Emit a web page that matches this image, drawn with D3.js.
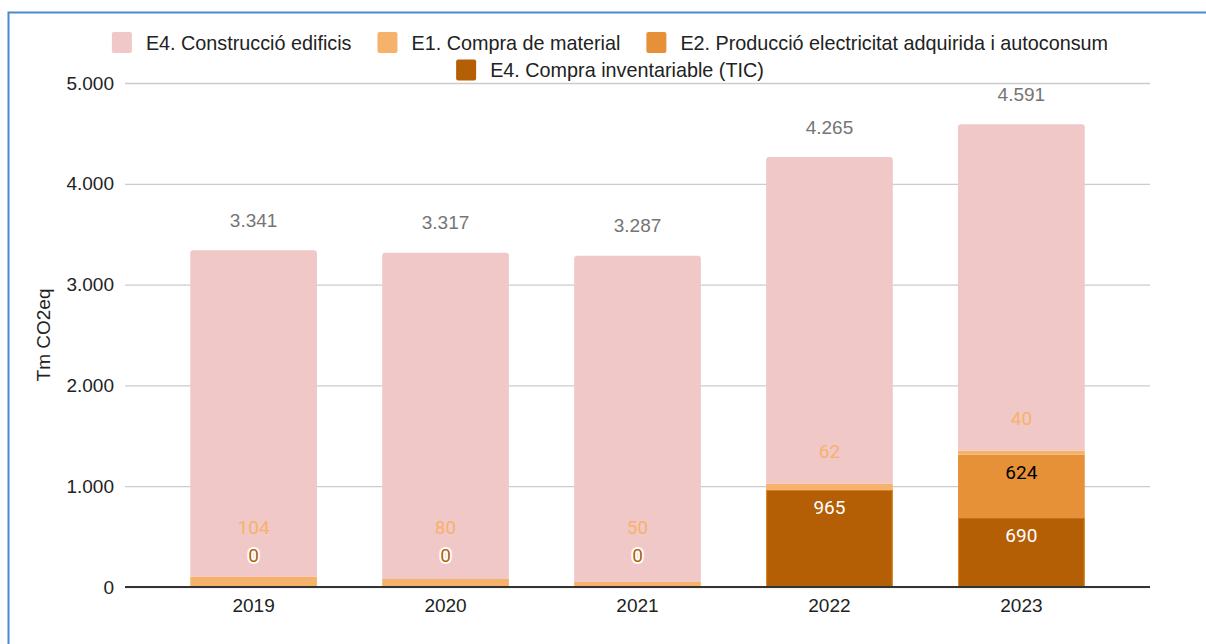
<!DOCTYPE html>
<html>
<head>
<meta charset="utf-8">
<script src="https://cdn.jsdelivr.net/npm/d3@7"></script>
<style>
  html, body { margin: 0; padding: 0; background: #fff; }
  svg { display: block; }
</style>
</head>
<body>
<svg id="chart" width="1206" height="644"></svg>
<script>
// ---- data ----
const years = ["2019", "2020", "2021", "2022", "2023"];
const construccioEdificis = [3237, 3237, 3237, 3238, 3237];
const compraMaterial = [104, 80, 50, 62, 40];
const produccioElectricitat = [null, null, null, null, 624];
const compraInventariable = [0, 0, 0, 965, 690];
const yTicks = [0, 1000, 2000, 3000, 4000, 5000];
const seriesNames = [
  "E4. Construcció edificis",
  "E1. Compra de material",
  "E2. Producció electricitat adquirida i autoconsum",
  "E4. Compra inventariable (TIC)"
];
const axisTitle = "Tm CO2eq";

// ---- setup ----
const colors = {
  constr: "#f0c8c8",
  e1: "#f6b26b",
  e2: "#e69138",
  tic: "#b45f06"
};
const locale = d3.formatLocale({ decimal: ",", thousands: ".", grouping: [3], currency: ["", "€"] });
const fmt = locale.format(",d");

const svg = d3.select("#chart");
const W = 1206, H = 644;
const plot = { left: 125, right: 1150, top: 83, bottom: 587 };

// frame border
svg.append("rect")
  .attr("x", 8.5).attr("y", 12.5)
  .attr("width", W + 20).attr("height", H + 20)
  .attr("fill", "none").attr("stroke", "#4a89cc").attr("stroke-width", 2);

const x = d3.scaleBand().domain(years).range([plot.left, plot.right])
  .paddingInner(0.34).paddingOuter(0.34);
const y = d3.scaleLinear().domain([0, 5000]).range([plot.bottom, plot.top]);

// gridlines
const yAxis = d3.axisLeft(y).tickValues(yTicks).tickFormat(fmt)
  .tickSize(-(plot.right - plot.left)).tickPadding(11);
const gy = svg.append("g").attr("transform", `translate(${plot.left},0)`).call(yAxis);
gy.select(".domain").remove();
gy.selectAll(".tick line").attr("stroke", "#cccccc").attr("stroke-width", 1.3);
gy.selectAll(".tick text")
  .attr("font-family", "Liberation Sans, Arial, sans-serif")
  .attr("font-size", 19).attr("fill", "#222");

// stack: bottom to top
const rows = years.map((yr, i) => ({
  year: yr,
  tic: compraInventariable[i] || 0,
  e2: produccioElectricitat[i] || 0,
  e1: compraMaterial[i] || 0,
  constr: construccioEdificis[i] || 0
}));
const keys = ["tic", "e2", "e1", "constr"];
const stacked = d3.stack().keys(keys)(rows);

const bw = x.bandwidth();
const barsG = svg.append("g");
stacked.forEach(layer => {
  const key = layer.key;
  layer.forEach(d => {
    const x0 = x(d.data.year);
    const yTop = y(d[1]), yBot = y(d[0]);
    const h = yBot - yTop;
    if (h <= 0) return;
    if (key === "constr") {
      const r = 3;
      const p = `M${x0},${yBot} L${x0},${yTop + r} Q${x0},${yTop} ${x0 + r},${yTop} L${x0 + bw - r},${yTop} Q${x0 + bw},${yTop} ${x0 + bw},${yTop + r} L${x0 + bw},${yBot} Z`;
      barsG.append("path").attr("d", p).attr("fill", colors.constr);
    } else {
      barsG.append("rect")
        .attr("x", x0).attr("y", yTop).attr("width", bw).attr("height", h)
        .attr("fill", colors[key]);
      if (key === "tic") {
        barsG.append("rect")
          .attr("x", x0 + 0.5).attr("y", yTop + 0.5).attr("width", bw - 1).attr("height", Math.max(0, h - 1))
          .attr("fill", "none").attr("stroke", "#e08a2c").attr("stroke-width", 1);
      }
    }
  });
});

// baseline
svg.append("line")
  .attr("x1", plot.left).attr("x2", plot.right)
  .attr("y1", y(0)).attr("y2", y(0))
  .attr("stroke", "#333").attr("stroke-width", 2);

// x axis labels
const xAxis = d3.axisBottom(x).tickSize(0).tickPadding(12);
const gx = svg.append("g").attr("transform", `translate(0,${y(0)})`).call(xAxis);
gx.select(".domain").remove();
gx.selectAll(".tick text")
  .attr("font-family", "Liberation Sans, Arial, sans-serif")
  .attr("font-size", 19).attr("fill", "#222");

// segment labels
const labelsG = svg.append("g")
  .attr("font-family", "Roboto, sans-serif").attr("font-size", 19)
  .attr("text-anchor", "middle").attr("dominant-baseline", "central");
const srcArrays = { tic: compraInventariable, e2: produccioElectricitat, e1: compraMaterial };
const insideColor = { tic: "#ffffff", e2: "#000000", e1: "#000000" };
years.forEach((yr, i) => {
  const cx = x(yr) + bw / 2;
  let prevY = Infinity;
  ["tic", "e2", "e1"].forEach(key => {
    const v = srcArrays[key][i];
    if (v === null || v === undefined) return;
    const layer = stacked.find(s => s.key === key)[i];
    const yTop = y(layer[1]), yBot = y(layer[0]);
    const h = yBot - yTop;
    let ly, fill, halo = false;
    if (h > 30) {
      ly = yTop + 18; fill = insideColor[key];
    } else {
      ly = yTop - 32; fill = colors[key]; halo = (key === "tic");
    }
    if (ly > prevY - 28) ly = prevY - 28;
    prevY = ly;
    const t = labelsG.append("text").attr("x", cx).attr("y", ly).attr("fill", fill).text(fmt(v));
    if (halo) {
      t.attr("stroke", "#fff").attr("stroke-width", 4).attr("paint-order", "stroke").attr("stroke-linejoin", "round");
    }
  });
  // total label
  const total = d3.sum(keys, k => rows[i][k]);
  svg.append("text")
    .attr("x", cx).attr("y", y(total) - 30)
    .attr("text-anchor", "middle").attr("dominant-baseline", "central")
    .attr("font-family", "Liberation Sans, Arial, sans-serif").attr("font-size", 19)
    .attr("fill", "#757575").text(fmt(total));
});

// axis title
svg.append("text")
  .attr("transform", `translate(43,${(plot.top + plot.bottom) / 2}) rotate(-90)`)
  .attr("text-anchor", "middle").attr("dominant-baseline", "central")
  .attr("font-family", "Liberation Sans, Arial, sans-serif").attr("font-size", 19)
  .attr("fill", "#222").text(axisTitle);

// legend
const legendColors = [colors.constr, colors.e1, colors.e2, colors.tic];
const legendRows = [[0, 1, 2], [3]];
const legendY = [42.5, 70];
const legendG = svg.append("g")
  .attr("font-family", "Liberation Sans, Arial, sans-serif").attr("font-size", 19.8).attr("fill", "#222");
legendRows.forEach((row, ri) => {
  const items = row.map(idx => {
    const t = legendG.append("text").attr("dominant-baseline", "central").text(seriesNames[idx]);
    const w = t.node().getComputedTextLength();
    return { idx, t, w };
  });
  const sw = 20, gapText = 14, gapItem = 26;
  const totalW = d3.sum(items, d => sw + gapText + d.w) + gapItem * (items.length - 1);
  let cx = 610 - totalW / 2;
  items.forEach(d => {
    legendG.append("rect")
      .attr("x", cx).attr("y", legendY[ri] - 10.5).attr("width", sw).attr("height", 21)
      .attr("rx", 2).attr("fill", legendColors[d.idx]);
    d.t.attr("x", cx + sw + gapText).attr("y", legendY[ri]);
    cx += sw + gapText + d.w + gapItem;
  });
});
</script>
</body>
</html>
